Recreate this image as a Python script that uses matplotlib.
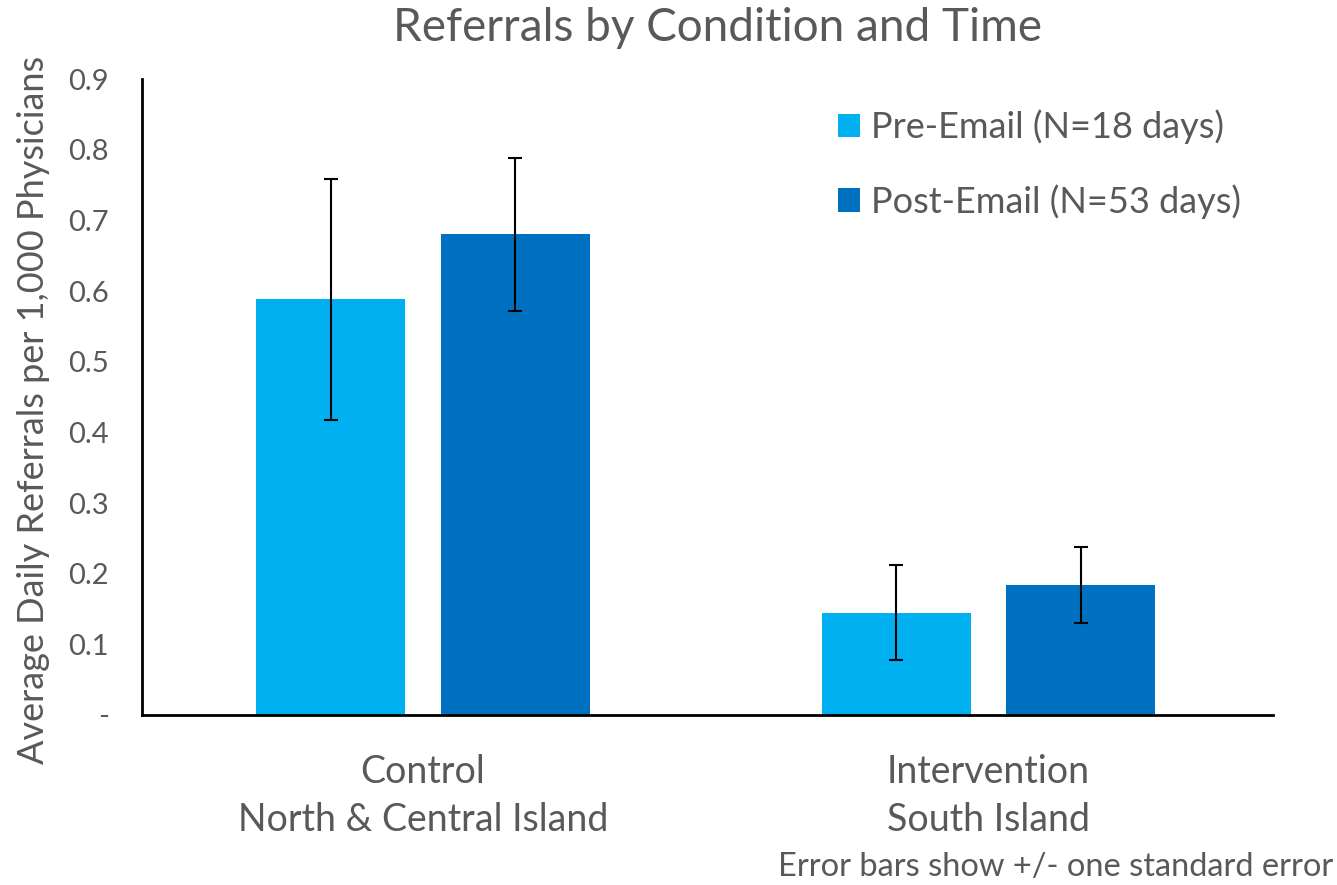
import numpy as np
import matplotlib.pyplot as plt

# данные
groups = ["Control\nNorth & Central Island", "Intervention\nSouth Island"]
pre_vals = [0.588, 0.145]
post_vals = [0.680, 0.184]
pre_err = [0.171, 0.067]
post_err = [0.108, 0.054]
labels = ["Pre-Email (N=18 days)", "Post-Email (N=53 days)"]
yticks = [0, 0.1, 0.2, 0.3, 0.4, 0.5, 0.6, 0.7, 0.8, 0.9]
ytick_labels = ["-", "0.1", "0.2", "0.3", "0.4", "0.5", "0.6", "0.7", "0.8", "0.9"]

plt.rcParams['font.family'] = ['Lato', 'DejaVu Sans']
grey = '#595959'

fig = plt.figure(figsize=(13.37, 8.85), dpi=100)
ax = fig.add_axes([0.1062, 0.1921, 0.8458, 0.7186])

x = np.arange(len(groups))
w = 0.264
off = 0.163
ax.bar(x - off, pre_vals, w, color='#00B0F0', label=labels[0])
ax.bar(x + off, post_vals, w, color='#0070C0', label=labels[1])
ax.errorbar(x - off, pre_vals, yerr=pre_err, fmt='none', ecolor='black',
            elinewidth=1.5, capsize=5, capthick=1.5)
ax.errorbar(x + off, post_vals, yerr=post_err, fmt='none', ecolor='black',
            elinewidth=1.5, capsize=5, capthick=1.5)

ax.set_xlim(-0.497, 1.503)
ax.set_ylim(0, 0.9)
ax.set_yticks(yticks)
ax.set_yticklabels(ytick_labels, fontsize=21, color=grey)
ax.set_xticks(x)
ax.set_xticklabels(groups, fontsize=27, color=grey, linespacing=1.42)
ax.tick_params(axis='y', length=0, pad=24)
ax.tick_params(axis='x', length=0, pad=28)

for s in ['top', 'right']:
    ax.spines[s].set_visible(False)
for s in ['left', 'bottom']:
    ax.spines[s].set_linewidth(2)

ax.set_ylabel("Average Daily Referrals per 1,000 Physicians", fontsize=26,
              color=grey)
ax.yaxis.set_label_coords(-0.081, 0.48)

fig.text(0.537, 0.968, "Referrals by Condition and Time", fontsize=33,
         color=grey, ha='center', va='center')

ax.legend(loc='upper left', bbox_to_anchor=(838 / 1337, 0.876),
          bbox_transform=fig.transFigure, frameon=False, fontsize=26,
          labelcolor=grey, handlelength=0.61, handleheight=0.61,
          labelspacing=1.1, handletextpad=0.3, borderpad=0, borderaxespad=0)

# подпись про планки погрешностей
fig.text(0.997, 0.003, "Error bars show +/- one standard error", ha='right',
         va='bottom', fontsize=23.5, color=grey)

fig.savefig("out.png", dpi=100)
